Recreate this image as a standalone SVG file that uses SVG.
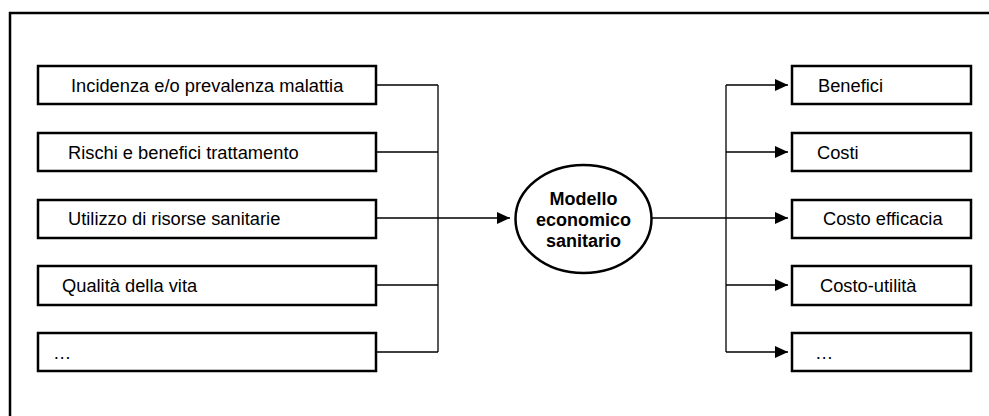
<svg xmlns="http://www.w3.org/2000/svg" width="989" height="416" viewBox="0 0 989 416">
<style>
.box{fill:#fff;stroke:#000;stroke-width:2.5}
.frame{fill:none;stroke:#000;stroke-width:2.5}
.t{font-family:"Liberation Sans",Arial,Helvetica,sans-serif;font-size:18.3px;fill:#000}
.b{font-family:"Liberation Sans",Arial,Helvetica,sans-serif;font-size:18px;font-weight:bold;fill:#000;text-anchor:middle}
.c{fill:none;stroke:#000;stroke-width:1.3}
</style>
<defs>
<marker id="ah" markerWidth="13" markerHeight="12" refX="13" refY="6" orient="auto" markerUnits="userSpaceOnUse">
<path d="M0,0 L13,6 L0,12 Z" fill="#000"/>
</marker>
</defs>
<rect class="frame" x="10" y="13" width="1100" height="500"/>
<g id="in1"><rect class="box" x="38" y="66" width="338" height="38"/><text class="t" x="71" y="92">Incidenza e/o prevalenza malattia</text></g>
<g id="in2"><rect class="box" x="38" y="133" width="338" height="38"/><text class="t" x="68" y="159">Rischi e benefici trattamento</text></g>
<g id="in3"><rect class="box" x="38" y="200" width="338" height="38"/><text class="t" x="68" y="225">Utilizzo di risorse sanitarie</text></g>
<g id="in4"><rect class="box" x="38" y="266" width="338" height="39"/><text class="t" x="62" y="292">Qualità della vita</text></g>
<g id="in5"><rect class="box" x="38" y="333" width="338" height="38"/><text class="t" x="53" y="359">…</text></g>
<g id="model"><ellipse cx="583.5" cy="219" rx="68" ry="54" fill="#fff" stroke="#000" stroke-width="2.5"/>
<text class="b" x="583.5" y="205">Modello</text><text class="b" x="583.5" y="226">economico</text><text class="b" x="583.5" y="247">sanitario</text></g>
<g id="out1"><rect class="box" x="792" y="66" width="179" height="38"/><text class="t" x="818" y="92">Benefici</text></g>
<g id="out2"><rect class="box" x="792" y="133" width="179" height="38"/><text class="t" x="817" y="159">Costi</text></g>
<g id="out3"><rect class="box" x="792" y="200" width="179" height="38"/><text class="t" x="823" y="225">Costo efficacia</text></g>
<g id="out4"><rect class="box" x="792" y="266" width="179" height="39"/><text class="t" x="820" y="292">Costo-utilità</text></g>
<g id="out5"><rect class="box" x="792" y="333" width="179" height="38"/><text class="t" x="815" y="359">…</text></g>
<g id="connectors">
<path class="c" d="M377,85 H438 M377,152 H438 M377,218 H438 M377,285 H438 M377,352 H438 M438,85 V352"/>
<path class="c" d="M438,218 H510" marker-end="url(#ah)"/>
<path class="c" d="M726,85 V352"/>
<path class="c" d="M652,218 H788" marker-end="url(#ah)"/>
<path class="c" d="M726,85 H788" marker-end="url(#ah)"/>
<path class="c" d="M726,152 H788" marker-end="url(#ah)"/>
<path class="c" d="M726,285 H788" marker-end="url(#ah)"/>
<path class="c" d="M726,352 H788" marker-end="url(#ah)"/>
</g>
</svg>
